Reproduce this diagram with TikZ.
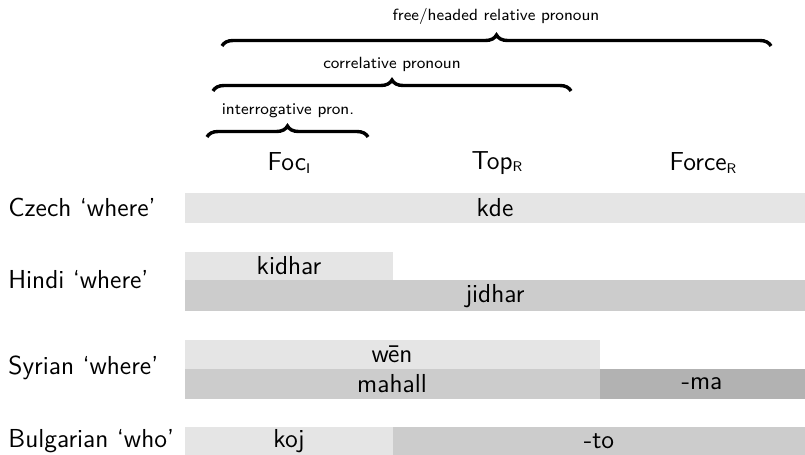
\documentclass[tikz,border=0pt]{standalone}
\usetikzlibrary{decorations.pathreplacing}
\newcommand{\subsc}[1]{\raisebox{-1.2pt}{\fontsize{7}{8}\selectfont #1}}
\begin{document}
\begin{tikzpicture}[x=0.5pt,y=-0.5pt,
  lab/.style={font=\sffamily\fontsize{13}{15}\selectfont, inner sep=0pt},
  small/.style={font=\sffamily\fontsize{8.1}{10}\selectfont, inner sep=0pt},
  bracestyle/.style={decorate, decoration={brace, amplitude=5.5pt}, line width=1.7pt},
  cellA/.style={fill=black!10, draw=none},
  cellB/.style={fill=black!20, draw=none},
  cellC/.style={fill=black!30, draw=none}]
\useasboundingbox (0,0) rectangle (805,455);
% column headers
\node[lab] (foc) at (289,163) {Foc\subsc{I}};
\node[lab] (top) at (497,163) {Top\subsc{R}};
\node[lab] (force) at (703,163) {Force\subsc{R}};
% braces
\coordinate (b1l) at (207,137); \coordinate (b1r) at (368,137);
\draw[bracestyle] (b1l) -- (b1r);
\node[small] (t1) at (288,111) {interrogative pron.};
\coordinate (b2l) at (213,91); \coordinate (b2r) at (571,91);
\draw[bracestyle] (b2l) -- (b2r);
\node[small] (t2) at (392,64) {correlative pronoun};
\coordinate (b3l) at (222,46); \coordinate (b3r) at (771,46);
\draw[bracestyle] (b3l) -- (b3r);
\node[small] (t3) at (496,16) {free/headed relative pronoun};
% row labels
\node[lab, anchor=west] (cz) at (8,207) {Czech `where'};
\node[lab, anchor=west] (hi) at (8,280) {Hindi `where'};
\node[lab, anchor=west] (sy) at (8,368) {Syrian `where'};
\node[lab, anchor=west] (bg) at (8,441) {Bulgarian `who'};
% cells
\path[cellA] (185,193) rectangle (805,223); \node[lab] (kde) at (495,208) {kde};
\path[cellA] (185,252) rectangle (393,280); \node[lab] (kidhar) at (289,266) {kidhar};
\path[cellB] (185,280) rectangle (805,311); \node[lab] (jidhar) at (495,296) {jidhar};
\path[cellA] (185,340) rectangle (600,369); \node[lab] (wen) at (392,354) {w\=en};
\path[cellB] (185,369) rectangle (600,399); \node[lab] (mahall) at (392,384) {mahall};
\path[cellC] (600,369) rectangle (805,399); \node[lab] (ma) at (702,384) {-ma};
\path[cellA] (185,427) rectangle (393,455); \node[lab] (koj) at (289,441) {koj};
\path[cellB] (393,427) rectangle (805,455); \node[lab] (to) at (599,441) {-to};
\end{tikzpicture}
\end{document}
